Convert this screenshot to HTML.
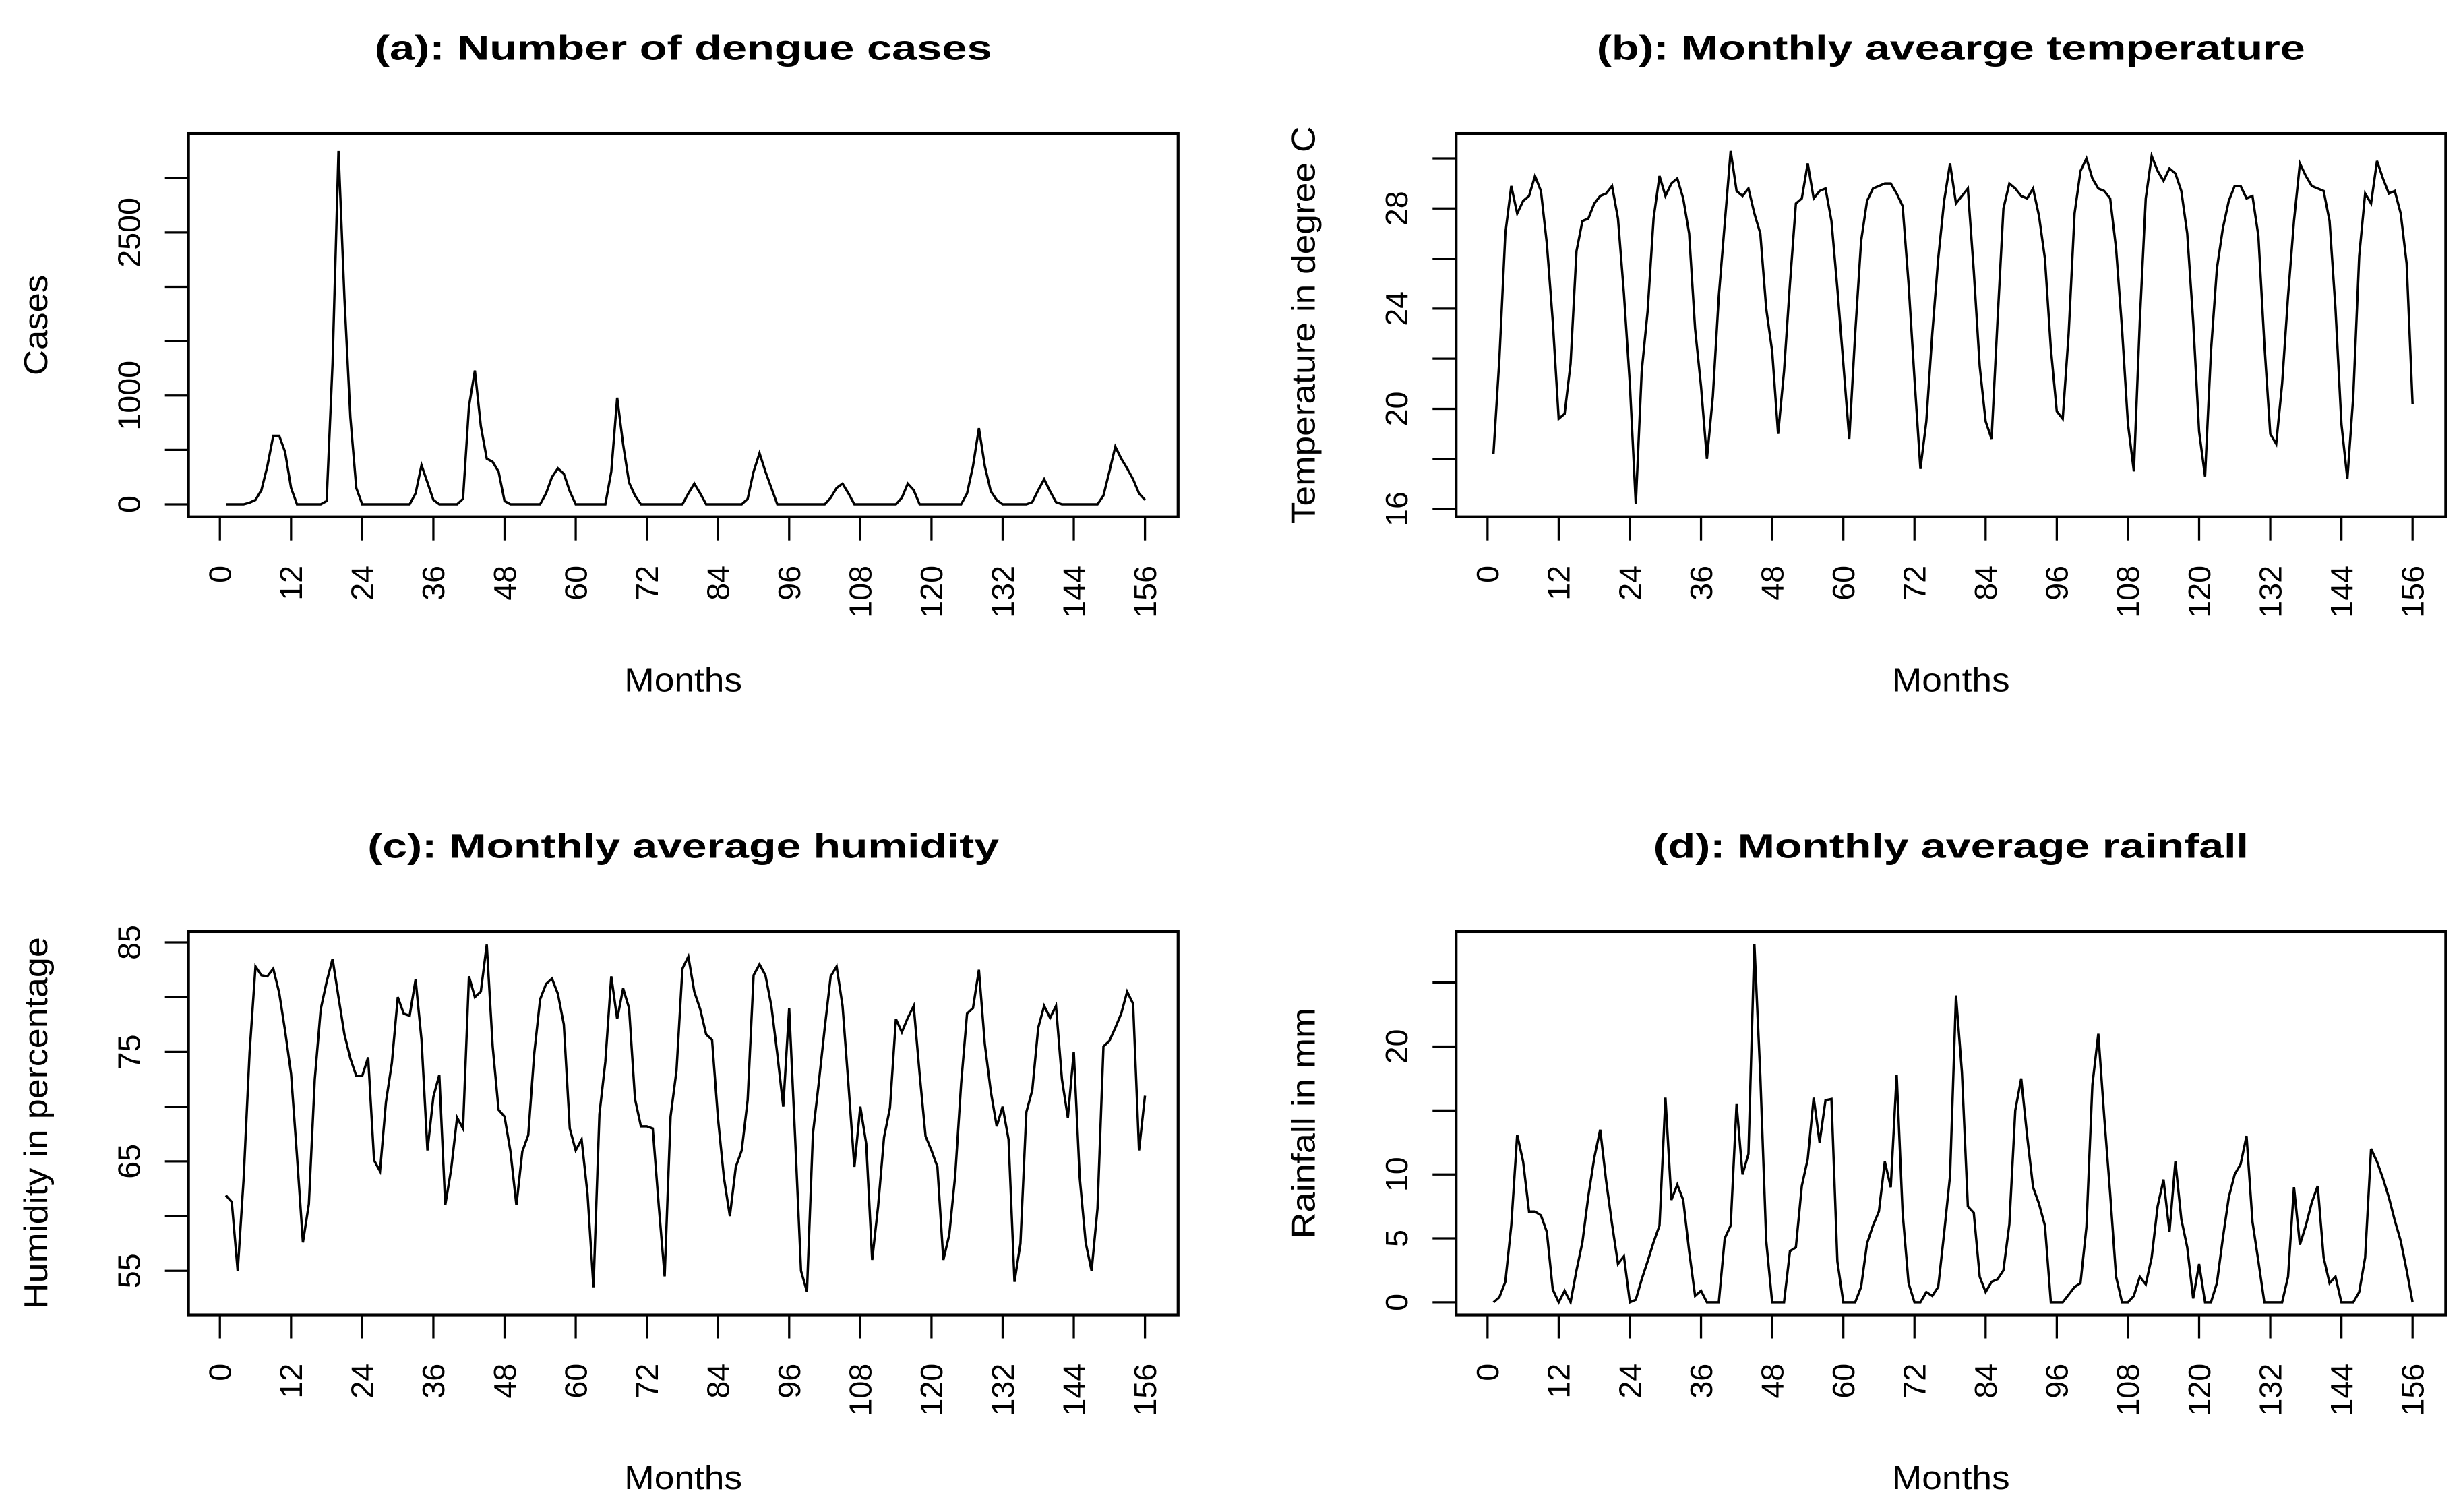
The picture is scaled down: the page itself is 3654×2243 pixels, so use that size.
<!DOCTYPE html>
<html><head><meta charset="utf-8"><title>Dengue and climate time series</title>
<style>
html,body{margin:0;padding:0;background:#fff;}
svg{display:block;}
text{font-family:"Liberation Sans",Arial,sans-serif;fill:#000;}
</style></head>
<body>
<svg id="fig" xmlns="http://www.w3.org/2000/svg" width="3654" height="2243" viewBox="0 0 1568 962.5" preserveAspectRatio="none">
<rect x="0" y="0" width="1568" height="962.5" fill="#fff"/>
</svg>
<script>
// ---- data (months 1..156) ----
const months = Array.from({length:156},(_,i)=>i+1);
const xTicks = [0,12,24,36,48,60,72,84,96,108,120,132,144,156];

const dengueCases = [
0,0,0,0,15,40,130,350,630,630,480,150,
0,0,0,0,0,30,1300,3250,1900,800,150,0,
0,0,0,0,0,0,0,0,100,360,200,40,
0,0,0,0,50,900,1230,720,420,390,300,30,
0,0,0,0,0,0,100,250,330,280,120,0,
0,0,0,0,0,300,980,550,200,80,0,0,
0,0,0,0,0,0,100,190,100,0,0,0,
0,0,0,0,50,300,470,300,150,0,0,0,
0,0,0,0,0,0,60,150,190,100,0,0,
0,0,0,0,0,0,60,190,130,0,0,0,
0,0,0,0,0,100,350,700,350,120,40,0,
0,0,0,0,20,130,230,120,20,0,0,0,
0,0,0,0,80,300,530,420,330,230,100,40];

const temperature = [
18.2,22.0,27.0,28.9,27.8,28.3,28.5,29.3,28.7,26.6,23.5,19.6,
19.8,21.8,26.3,27.5,27.6,28.2,28.5,28.6,28.9,27.6,24.6,21.0,
16.2,21.5,23.9,27.6,29.3,28.5,29.0,29.2,28.4,27.0,23.2,20.9,
18.0,20.5,24.5,27.4,30.3,28.7,28.5,28.8,27.8,27.0,24.0,22.3,
19.0,21.5,25.0,28.2,28.4,29.8,28.4,28.7,28.8,27.5,24.8,21.8,
18.8,23.0,26.7,28.3,28.8,28.9,29.0,29.0,28.6,28.1,25.0,21.2,
17.6,19.5,23.0,26.0,28.3,29.8,28.2,28.5,28.8,25.5,21.7,19.5,
18.8,23.5,28.0,29.0,28.8,28.5,28.4,28.8,27.7,26.0,22.4,19.9,
19.6,23.0,27.8,29.5,30.0,29.2,28.8,28.7,28.4,26.4,23.2,19.4,
17.5,23.5,28.4,30.1,29.5,29.1,29.6,29.4,28.7,27.0,23.5,19.1,
17.3,22.3,25.6,27.2,28.3,28.9,28.9,28.4,28.5,26.9,22.6,19.0,
18.6,21.0,24.5,27.5,29.8,29.3,28.9,28.8,28.7,27.5,24.0,19.4,
17.2,20.5,26.1,28.6,28.2,29.9,29.2,28.6,28.7,27.8,25.8,20.2];

const humidity = [
61.9,61.3,55,63.4,74.9,82.8,82.0,81.9,82.6,80.4,76.9,73.0,
65.5,57.6,61.1,72.5,78.9,81.4,83.5,80,76.6,74.4,72.8,72.8,
74.5,65.1,64.1,70.4,74.0,80.0,78.5,78.3,81.6,76.1,66,70.9,
72.9,61,64.3,69,68,81.9,80,80.5,84.8,75.5,69.7,69.1,
65.9,61,65.9,67.4,74.8,79.8,81.2,81.7,80.3,77.5,68,66,
67,62,53.5,69.3,74.1,81.9,78,80.8,79,70.7,68.2,68.2,
68,61,54.5,69.1,73.3,82.6,83.7,80.5,78.9,76.6,76.1,68.9,
63.5,60,64.5,66,70.6,82,83,82,79.2,74.8,70,79,
67.2,55,53.1,67.5,72.2,77.2,81.9,82.8,79.2,72,64.5,70,
66.6,56,60.9,67.2,69.9,78,76.8,78.1,79.2,73,67.3,66,
64.5,56,58.3,63.7,72.1,78.5,79,82.5,75.7,71.4,68.2,70,
67,54,57.5,69.5,71.5,77.2,79.2,78.1,79.2,72.5,69,75,
63.5,57.6,55,60.7,75.5,76,77.2,78.5,80.5,79.4,66,71];

const rainfall = [
0,0.4,1.6,6,13.1,11,7.1,7.1,6.8,5.5,1,0,
0.9,0,2.5,4.7,8.3,11.3,13.5,9.5,6.1,3,3.6,0,
0.2,1.8,3.2,4.7,6,16,8,9.2,8,4,0.5,0.9,
0,0,0,5,6,15.5,10,11.6,28,17.7,4.8,0,
0,0,4,4.3,9.1,11.2,16,12.5,15.8,15.9,3.2,0,
0,0,1.2,4.6,6,7.1,11,9,17.8,7,1.5,0,
0,0.8,0.5,1.2,5.4,9.9,24,18,7.5,7,2,0.8,
1.6,1.8,2.5,6.1,15,17.5,13,9,7.7,6,0,0,
0,0.6,1.2,1.5,5.9,17,21,14.5,8.5,2,0,0,
0.5,2,1.4,3.5,7.5,9.6,5.5,11,6.5,4.3,0.3,3,
0,0,1.5,5,8.2,10,10.8,13,6.3,3.2,0,0,
0,0,2,9,4.5,6,7.8,9.1,3.5,1.5,2,0,
0,0,0.8,3.5,12,11,9.7,8.2,6.4,4.8,2.5,0];

const casesTicks = [0,500,1000,1500,2000,2500,3000];
const casesTickLabels = ["0","","1000","","","2500",""];
const tempTicks = [16,18,20,22,24,26,28,30];
const tempTickLabels = ["16","","20","","24","","28",""];
const humTicks = [55,60,65,70,75,80,85];
const humTickLabels = ["55","","65","","75","","85"];
const rainTicks = [0,5,10,15,20,25];
const rainTickLabels = ["0","5","10","","20",""];

// ---- drawing ----
const NS = "http://www.w3.org/2000/svg";
const svg = document.getElementById("fig");
function mk(tag, attrs, parent){
  const e = document.createElementNS(NS, tag);
  for (const k in attrs) e.setAttribute(k, attrs[k]);
  (parent||svg).appendChild(e);
  return e;
}

function panel(cfg){
  const g = mk("g", {});
  
  
  const L=cfg.L, R=cfg.R, T=cfg.T, B=cfg.B;
  const xs = n => cfg.x0 + n*3.775;
  const ys = cfg.ys;

  // title
  const t = mk("text", {x:(L+R)/2, y:cfg.titleY, "text-anchor":"middle", "font-size":"22", "font-weight":"bold", textLength:cfg.titleLen, lengthAdjust:"spacingAndGlyphs"}, g);
  t.textContent = cfg.title;
  
  

  // series
  let d = "";
  cfg.values.forEach((v,i)=>{ d += (i?"L":"M") + xs(months[i]).toFixed(2) + " " + ys(v).toFixed(2) + " "; });
  const p = mk("path", {d:d, fill:"none", stroke:"#000", "stroke-width":"1.5", "stroke-linejoin":"miter"}, g);
  
  

  // box
  const box = mk("rect", {x:L, y:T, width:R-L, height:B-T, fill:"none", stroke:"#000", "stroke-width":"1.8"}, g);
  
  

  // x axis
  const xa = mk("g", {}, g);
  
  
  xTicks.forEach(v=>{
    const x = xs(v);
    const tk = mk("line", {x1:x, y1:B, x2:x, y2:B+15, stroke:"#000", "stroke-width":"1.4"}, xa);
    
    
    const lb = mk("text", {x:x+7, y:B+31, "text-anchor":"end", "font-size":"20", transform:"rotate(-90 "+(x+7)+" "+(B+31)+")"}, xa);
    lb.textContent = String(v);
    
    
  });
  const xt = mk("text", {x:(L+R)/2, y:B+111, "text-anchor":"middle", "font-size":"21", textLength:"75", lengthAdjust:"spacingAndGlyphs"}, xa);
  xt.textContent = "Months";
  
  

  // y axis
  const ya = mk("g", {}, g);
  
  
  cfg.yTicks.forEach((v,i)=>{
    const y = ys(v);
    const tk = mk("line", {x1:L-15, y1:y, x2:L, y2:y, stroke:"#000", "stroke-width":"1.4"}, ya);
    
    
    if (cfg.yLabels[i]) {
      const lb = mk("text", {x:L-31, y:y, "text-anchor":"middle", "font-size":"20", transform:"rotate(-90 "+(L-31)+" "+y+")"}, ya);
      lb.textContent = cfg.yLabels[i];
      
      
    }
  });
  const yt = mk("text", {x:cfg.ytX, y:(T+B)/2, "text-anchor":"middle", "font-size":"21", textLength:cfg.ytLen, lengthAdjust:"spacingAndGlyphs", transform:"rotate(-90 "+cfg.ytX+" "+((T+B)/2)+")"}, ya);
  yt.textContent = cfg.ytitle;
  
  
}

panel({id:"dengue", L:120,R:750,T:85,B:329, x0:140, ys:v=>321 - v*0.0692,
  values:dengueCases, yTicks:casesTicks, yLabels:casesTickLabels,
  title:"(a): Number of dengue cases", titleY:38, titleLen:393,
  ytitle:"Cases", ytX:30, ytLen:64});
panel({id:"temperature", L:927,R:1557,T:85,B:329, x0:947, ys:v=>324 - (v-16)*15.94,
  values:temperature, yTicks:tempTicks, yLabels:tempTickLabels,
  title:"(b): Monthly avearge temperature", titleY:38, titleLen:451,
  ytitle:"Temperature in degree C", ytX:837, ytLen:253});
panel({id:"humidity", L:120,R:750,T:593,B:837, x0:140, ys:v=>809 - (v-55)*6.97,
  values:humidity, yTicks:humTicks, yLabels:humTickLabels,
  title:"(c): Monthly average humidity", titleY:546, titleLen:402,
  ytitle:"Humidity in percentage", ytX:30, ytLen:237});
panel({id:"rainfall", L:927,R:1557,T:593,B:837, x0:947, ys:v=>829 - v*8.14,
  values:rainfall, yTicks:rainTicks, yLabels:rainTickLabels,
  title:"(d): Monthly average rainfall", titleY:546, titleLen:379,
  ytitle:"Rainfall in mm", ytX:837, ytLen:147});
</script>
</body></html>
